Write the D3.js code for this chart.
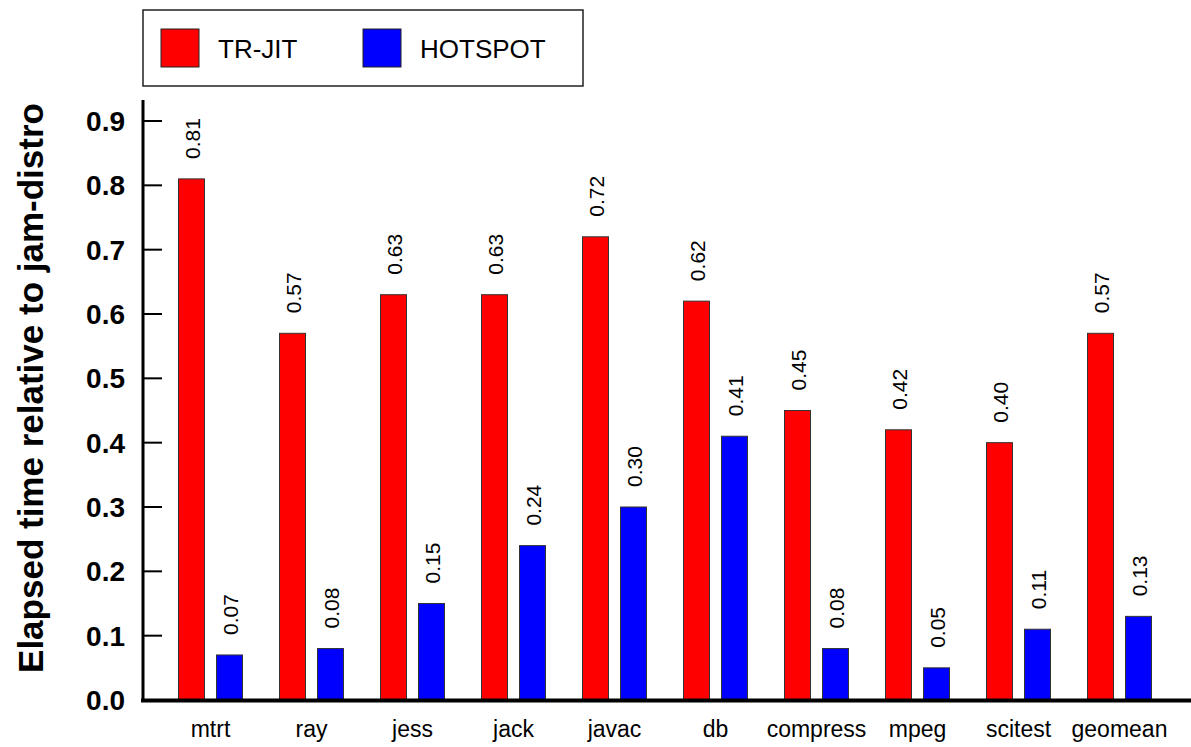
<!DOCTYPE html>
<html>
<head>
<meta charset="utf-8">
<script src="https://cdn.jsdelivr.net/npm/d3@7"></script>
<style>
  html, body { margin: 0; padding: 0; background: #fff; }
  svg { display: block; font-family: "Liberation Sans", Arial, Helvetica, sans-serif; }
</style>
</head>
<body>
<svg id="chart" width="1191" height="747"></svg>
<script>
const categories = ["mtrt", "ray", "jess", "jack", "javac", "db", "compress", "mpeg", "scitest", "geomean"];
const trjit = [0.81, 0.57, 0.63, 0.63, 0.72, 0.62, 0.45, 0.42, 0.40, 0.57];
const hotspot = [0.07, 0.08, 0.15, 0.24, 0.30, 0.41, 0.08, 0.05, 0.11, 0.13];
const seriesNames = ["TR-JIT", "HOTSPOT"];
const seriesColors = ["#ff0000", "#0000ff"];
const yTicks = [0.0, 0.1, 0.2, 0.3, 0.4, 0.5, 0.6, 0.7, 0.8, 0.9];
const yTitle = "Elapsed time relative to jam-distro";

const svg = d3.select("#chart");
const y = d3.scaleLinear().domain([0, 0.9]).range([700, 121]);
const x = d3.scaleBand().domain(categories).range([160, 1170]).padding(0);
const sub = d3.scaleBand().domain(seriesNames).range([-32, 32]).paddingInner(0.316);
const fmt = d3.format(".2f");
const series = [trjit, hotspot];

// bars
series.forEach((vals, si) => {
  const g = svg.append("g");
  g.selectAll("rect").data(categories).join("rect")
    .attr("x", (c) => x(c) + x.bandwidth() / 2 + sub(seriesNames[si]))
    .attr("width", sub.bandwidth())
    .attr("y", (c, i) => y(vals[i]))
    .attr("height", (c, i) => y(0) - y(vals[i]))
    .attr("fill", seriesColors[si])
    .attr("stroke", "#333")
    .attr("stroke-width", 1);
  g.selectAll("text").data(categories).join("text")
    .attr("transform", (c, i) => {
      const cx = x(c) + x.bandwidth() / 2 + sub(seriesNames[si]) + sub.bandwidth() / 2 + 1;
      return `translate(${cx},${y(vals[i]) - 20}) rotate(-90)`;
    })
    .attr("dy", "0.36em")
    .attr("font-size", 21)
    .attr("fill", "#000")
    .text((c, i) => fmt(vals[i]));
});

// y axis
const yAxis = svg.append("g");
yAxis.append("line").attr("x1", 143).attr("x2", 143).attr("y1", 100).attr("y2", 701)
  .attr("stroke", "#000").attr("stroke-width", 3);
yAxis.selectAll("line.tick").data(yTicks).join("line").attr("class", "tick")
  .attr("x1", 143).attr("x2", 162).attr("y1", (d) => y(d)).attr("y2", (d) => y(d))
  .attr("stroke", "#000").attr("stroke-width", 2);
yAxis.selectAll("text").data(yTicks).join("text")
  .attr("x", 125).attr("y", (d) => y(d)).attr("dy", "0.36em")
  .attr("text-anchor", "end").attr("font-size", 28).attr("font-weight", "bold")
  .text((d) => d3.format(".1f")(d));

// x axis
svg.append("line").attr("x1", 141).attr("x2", 1191).attr("y1", 700.5).attr("y2", 700.5)
  .attr("stroke", "#000").attr("stroke-width", 4);
svg.append("g").selectAll("text").data(categories).join("text")
  .attr("x", (c) => x(c) + x.bandwidth() / 2).attr("y", 737)
  .attr("text-anchor", "middle").attr("font-size", 23)
  .text((c) => c);

// y title
svg.append("text")
  .attr("transform", "translate(43,388) rotate(-90)")
  .attr("text-anchor", "middle").attr("font-size", 35).attr("font-weight", "bold")
  .text(yTitle);

// legend
const lg = svg.append("g");
lg.append("rect").attr("x", 143).attr("y", 10).attr("width", 440).attr("height", 76)
  .attr("fill", "#fff").attr("stroke", "#222").attr("stroke-width", 1.5);
const legX = [161, 363];
seriesNames.forEach((n, i) => {
  lg.append("rect").attr("x", legX[i]).attr("y", 29).attr("width", 38).attr("height", 38)
    .attr("fill", seriesColors[i]).attr("stroke", "#222").attr("stroke-width", 1);
  lg.append("text").attr("x", legX[i] + 57).attr("y", 58).attr("font-size", 26)
    .text(n);
});
</script>
</body>
</html>
